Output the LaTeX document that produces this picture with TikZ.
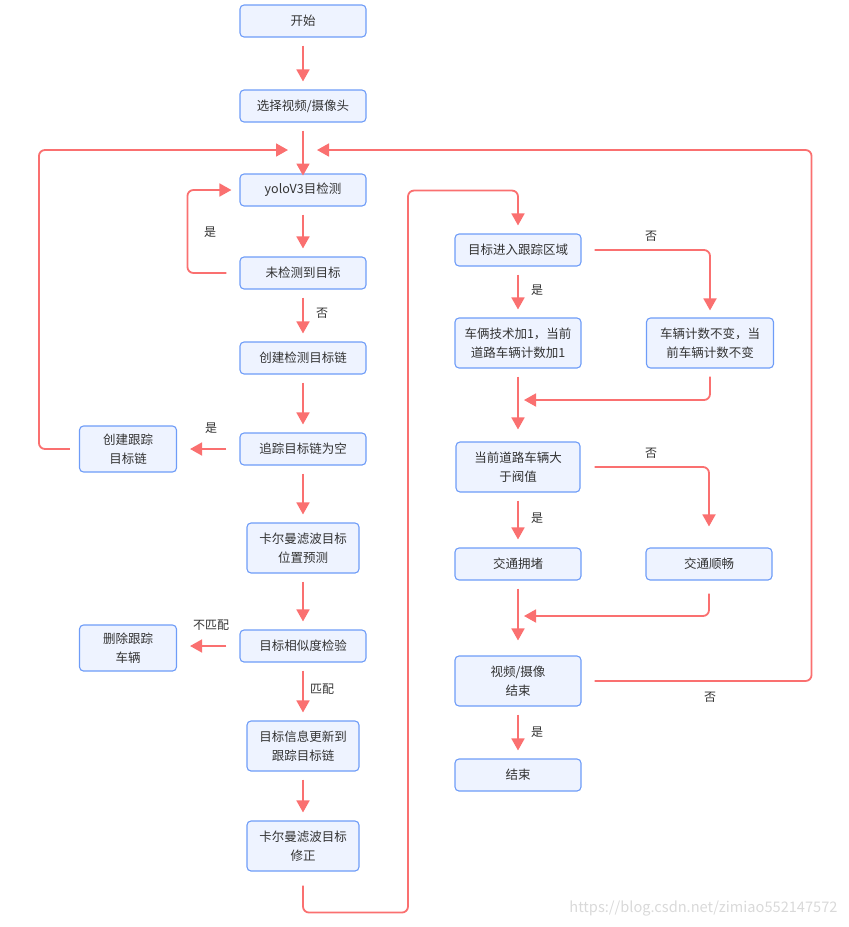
\documentclass[tikz,border=0pt]{standalone}
\usepackage{xcolor}
\usepackage{fontspec}
\setmainfont{Noto Sans CJK SC}
\usepackage{tikz}
\usetikzlibrary{arrows.meta}

\definecolor{boxfill}{HTML}{EEF3FF}
\definecolor{boxline}{HTML}{6E9CF8}
\definecolor{flowred}{HTML}{FA7070}
\definecolor{txt}{HTML}{333333}

\tikzset{
    box/.style={draw=boxline, fill=boxfill, line width=1.1pt, rounded corners=4pt,
        align=center, inner sep=0pt, text=txt,
        font=\fontsize{12.5}{18.5}\selectfont, minimum width=126pt, minimum height=32pt},
    mid/.style={box, minimum width=112pt, minimum height=50pt},
    side/.style={box, minimum width=97pt, minimum height=46pt},
    flow/.style={draw=flowred, line width=1.8pt, rounded corners=6pt,
        -{Triangle[length=12pt,width=13pt]}, shorten <=8pt, shorten >=8pt},
    lbl/.style={text=txt, font=\fontsize{12}{14}\selectfont}
}

\begin{document}
\begin{tikzpicture}[x=1pt, y=-1pt]
    \useasboundingbox (0,0) rectangle (849,927);

    % Left column
    \node[box] (start) at (303,21) {开始};
    \node[box] (select) at (303,106) {选择视频/摄像头};
    \node[box] (yolo) at (303,190) {yoloV3目检测};
    \node[box] (miss) at (303,273) {未检测到目标};
    \node[box] (chain) at (303,358) {创建检测目标链};
    \node[box] (empty) at (303,449) {追踪目标链为空};
    \node[mid] (predict) at (303,548) {卡尔曼滤波目标\\位置预测};
    \node[box] (simil) at (303,646) {目标相似度检验};
    \node[mid] (update) at (303,746) {目标信息更新到\\跟踪目标链};
    \node[mid] (correct) at (303,846) {卡尔曼滤波目标\\修正};
    \node[side] (newtrack) at (128,449) {创建跟踪\\目标链};
    \node[side] (deltrack) at (128,648) {删除跟踪\\车辆};

    % Right column
    \node[box] (enter) at (518,250) {目标进入跟踪区域};
    \node[mid, minimum width=126pt] (countup) at (518,343) {车俩技术加1，当前\\道路车辆计数加1};
    \node[mid, minimum width=127pt] (countkeep) at (710,343) {车辆计数不变，当\\前车辆计数不变};
    \node[mid, minimum width=124pt] (thresh) at (518,467) {当前道路车辆大\\于阀值};
    \node[box] (jam) at (518,564) {交通拥堵};
    \node[box] (smooth) at (709,564) {交通顺畅};
    \node[mid, minimum width=126pt] (stop) at (518,681) {视频/摄像\\结束};
    \node[box] (finish) at (518,775) {结束};

    % Meeting points
    \coordinate (mergeL) at (288,150);
    \coordinate (mergeR) at (317,150);
    \coordinate (joinA) at (524,400);
    \coordinate (joinB) at (524,616);

    % Straight arrows
    \foreach \a/\b in {start/select, yolo/miss, miss/chain, chain/empty,
        empty/predict, predict/simil, simil/update, update/correct,
        enter/countup, thresh/jam, stop/finish} {
        \draw[flow] (\a.south) -- (\b.north);
    }
    \draw[flow] (select.south) -- ++(0,61);
    \draw[flow, shorten >=12pt] (countup.south) -- (thresh.north);
    \draw[flow, shorten >=15pt] (jam.south) -- (stop.north);
    \draw[flow, shorten <=13pt, shorten >=13pt] (empty.west) -- (newtrack.east);
    \draw[flow, shorten <=13pt, shorten >=13pt] (simil.west) -- (deltrack.east |- simil.west);

    % Loops back
    \draw[flow, shorten <=13pt] (miss.west) -- ++(-52,0) |- (yolo.west);
    \draw[flow, shorten <=9pt, shorten >=0pt] (newtrack.west) -- ++(-40,0) |- (mergeL);
    \draw[flow, shorten <=13pt, shorten >=0pt] (stop.east) -- ++(230,0) |- (mergeR);
    \draw[flow, shorten <=14pt] (correct.south) -- ++(0,41) -- ++(105,0) -- ++(0,-722) -| (enter.north);

    % Branches
    \draw[flow, shorten <=13pt, shorten >=7pt] (enter.east) -| (countkeep.north);
    \draw[flow, shorten >=0pt] (countkeep.south) |- (joinA);
    \draw[flow, shorten <=14pt, shorten >=21pt] (thresh.east) -| (smooth.north);
    \draw[flow, shorten <=13pt, shorten >=0pt] (smooth.south) |- (joinB);

    % Labels
    \node[lbl] (yes1) at (210,232) {是};
    \node[lbl] (no1) at (322,313) {否};
    \node[lbl] (yes2) at (211,428) {是};
    \node[lbl] (nomatch) at (211,625) {不匹配};
    \node[lbl] (match) at (322,689) {匹配};
    \node[lbl] (no2) at (651,236) {否};
    \node[lbl] (yes3) at (537,290) {是};
    \node[lbl] (no3) at (651,453) {否};
    \node[lbl] (yes4) at (537,518) {是};
    \node[lbl] (no4) at (710,697) {否};
    \node[lbl] (yes5) at (537,732) {是};

    \node[anchor=east, text=black!15, font=\fontsize{14.6}{16}\selectfont] (mark) at (841,909) {https://blog.csdn.net/zimiao552147572};
\end{tikzpicture}
\end{document}
